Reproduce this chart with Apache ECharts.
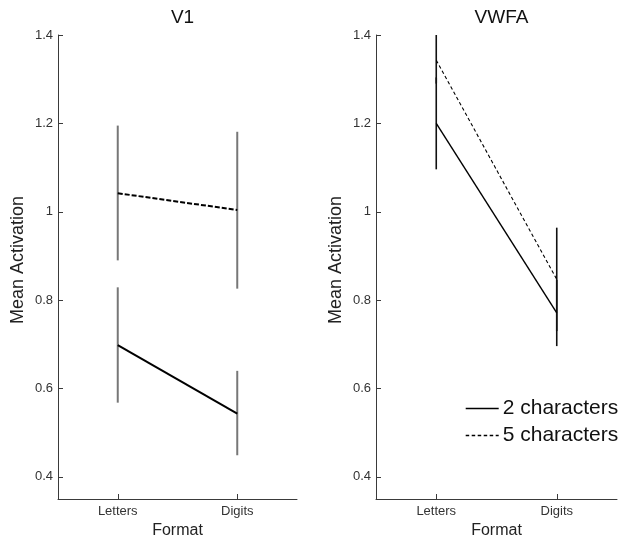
<!DOCTYPE html>
<html><head><meta charset="utf-8">
<script src="https://cdn.jsdelivr.net/npm/echarts@6/dist/echarts.min.js"></script>
<style>html,body{margin:0;padding:0;background:#fff}#c{width:630px;height:547px}</style>
</head><body><div id="c"></div>
<script>
const categories = ['Letters', 'Digits'];
const yTicks = [0.4, 0.6, 0.8, 1.0, 1.2, 1.4];
const panelTitles = ['V1', 'VWFA'];
const seriesNames = ['2 characters', '5 characters'];

// V1
const v1Two = [0.698, 0.543];
const v1TwoLow = [0.568, 0.449];
const v1TwoHigh = [0.829, 0.640];
const v1Five = [1.042, 1.004];
const v1FiveLow = [0.890, 0.826];
const v1FiveHigh = [1.195, 1.181];

// VWFA
const vwTwo = [1.200, 0.771];
const vwTwoLow = [1.096, 0.696];
const vwTwoHigh = [1.304, 0.846];
const vwFive = [1.343, 0.847];
const vwFiveLow = [1.290, 0.730];
const vwFiveHigh = [1.400, 0.964];

const FONT = 'Liberation Sans, Arial, sans-serif';
const AXC = '#3a3a3a';

function errData(lo, hi) { return lo.map((l, i) => [i, l, hi[i]]); }
function errSeries(idx, lo, hi, color, w) {
  return {
    type: 'custom', xAxisIndex: idx, yAxisIndex: idx, z: 1, silent: true,
    data: errData(lo, hi),
    encode: { x: 0, y: [1, 2] },
    renderItem: function (params, api) {
      const p1 = api.coord([api.value(0), api.value(1)]);
      const p2 = api.coord([api.value(0), api.value(2)]);
      return { type: 'line', shape: { x1: p1[0], y1: p1[1], x2: p2[0], y2: p2[1] },
        style: { stroke: color, lineWidth: w } };
    }
  };
}
function lineSeries(idx, name, data, w, dashed, dash) {
  return {
    type: 'line', name: name, xAxisIndex: idx, yAxisIndex: idx, z: 3,
    data: data, symbol: 'none', silent: true, animation: false, color: '#000',
    itemStyle: { color: '#000' },
    lineStyle: { color: '#000', width: w, type: dashed ? dash : 'solid' }
  };
}

const grids = [
  { left: 58, top: 35, width: 239, height: 464 },
  { left: 376, top: 35, width: 241, height: 464 }
];

const xAxes = grids.map((g, i) => ({
  type: 'category', gridIndex: i, data: categories, boundaryGap: true,
  name: 'Format', nameLocation: 'middle', nameGap: 20,
  nameTextStyle: { fontFamily: FONT, fontSize: 16, color: '#222' },
  axisLine: { lineStyle: { color: AXC, width: 1 } },
  axisTick: { show: true, inside: true, alignWithLabel: true, length: 5, lineStyle: { color: AXC, width: 1 } },
  axisLabel: { fontFamily: FONT, fontSize: 13, color: '#333', margin: 6 },
  splitLine: { show: false }
}));

const yAxes = grids.map((g, i) => ({
  type: 'value', gridIndex: i, min: 0.35, max: 1.4,
  name: 'Mean Activation', nameLocation: 'middle', nameGap: 31, nameRotate: 90,
  nameTextStyle: { fontFamily: FONT, fontSize: 18, color: '#222', padding: [0, 0, 0, 14] },
  axisLine: { show: true, lineStyle: { color: AXC, width: 1 } },
  axisTick: { show: true, inside: true, length: 5, customValues: yTicks, lineStyle: { color: AXC, width: 1 } },
  axisLabel: { fontFamily: FONT, fontSize: 13, color: '#333', margin: 5, customValues: yTicks,
    formatter: v => (Math.abs(v - 1) < 1e-9 ? '1' : String(+v.toFixed(1))) },
  splitLine: { show: false }
}));

const option = {
  animation: false,
  backgroundColor: '#fff',
  title: panelTitles.map((t, i) => ({
    text: t, left: grids[i].left + grids[i].width / 2, top: 3, textAlign: 'center',
    textStyle: { fontFamily: FONT, fontSize: 19, fontWeight: 'normal', color: '#111' }
  })),
  grid: grids,
  xAxis: xAxes,
  yAxis: yAxes,
  legend: {
    orient: 'vertical', left: 460, top: 393, data: seriesNames,
    itemWidth: 33, itemHeight: 14, itemGap: 6,
    itemStyle: { color: 'transparent', borderWidth: 0, opacity: 0 },
    lineStyle: { width: 1.4 },
    textStyle: { fontFamily: FONT, fontSize: 21, color: '#111', padding: [0, 0, 0, -1] },
    selectedMode: false
  },
  series: [
    lineSeries(1, seriesNames[0], vwTwo, 1.4, false),
    lineSeries(1, seriesNames[1], vwFive, 1.1, true, [3.5, 2.5]),
    errSeries(1, vwTwoLow, vwTwoHigh, '#111', 1.6),
    errSeries(1, vwFiveLow, vwFiveHigh, '#111', 1.6),
    lineSeries(0, seriesNames[0], v1Two, 2, false),
    lineSeries(0, seriesNames[1], v1Five, 2, true, [5, 2]),
    errSeries(0, v1TwoLow, v1TwoHigh, '#777', 2),
    errSeries(0, v1FiveLow, v1FiveHigh, '#777', 2)
  ]
};
const chart = echarts.init(document.getElementById('c'), null, { renderer: 'canvas' });
chart.setOption(option);
</script></body></html>
